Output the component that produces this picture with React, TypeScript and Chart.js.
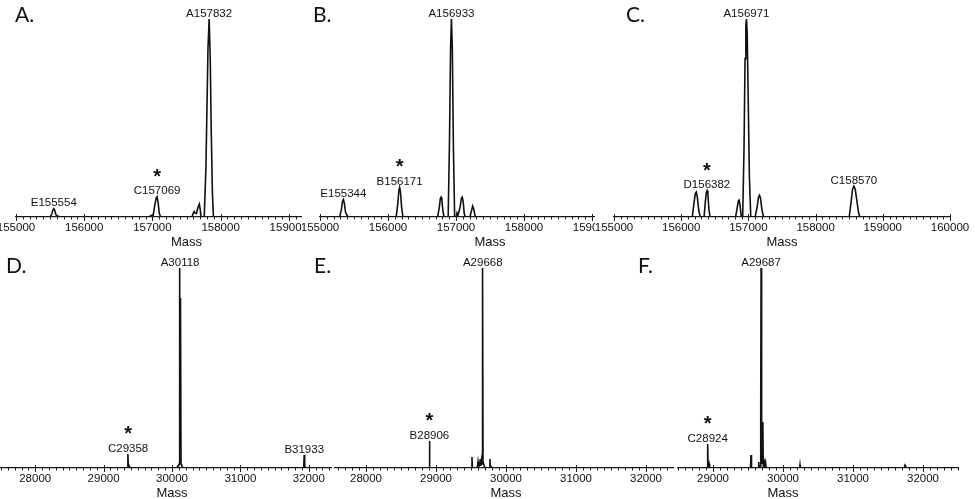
import React, { useEffect, useRef } from "react";
import { Chart, registerables } from "chart.js";
Chart.register(...registerables);

type Pt = [number, number];
type PeakLabel = { text: string; mass: number; level: number; star?: boolean };

// ---------- data (mass, relative intensity) ----------
const spectrumA: Pt[] = [
  [155000, 0], [155500, 0], [155525, 0.015], [155540, 0.035], [155554, 0.042], [155568, 0.034],
  [155585, 0.012], [155600, 0.006], [155620, 0.004], [155650, 0],
  [156950, 0], [156985, 0.008], [157010, 0.006], [157030, 0.05], [157055, 0.095], [157069, 0.102],
  [157085, 0.07], [157100, 0.02], [157120, 0],
  [157580, 0], [157600, 0.02], [157612, 0.028], [157625, 0.02], [157645, 0.018], [157670, 0.05],
  [157688, 0.065], [157700, 0.04], [157715, 0],
  [157760, 0], [157785, 0.25], [157800, 0.55], [157815, 0.85], [157832, 1.0], [157848, 0.8],
  [157862, 0.45], [157880, 0.12], [157895, 0], [160000, 0],
];
const labelsA: PeakLabel[] = [
  { text: "E155554", mass: 155554, level: 0.042 },
  { text: "C157069", mass: 157069, level: 0.102, star: true },
  { text: "A157832", mass: 157832, level: 1.0 },
];

const spectrumB: Pt[] = [
  [155000, 0], [155290, 0], [155315, 0.04], [155332, 0.08], [155344, 0.088], [155358, 0.07],
  [155375, 0.025], [155395, 0.01], [155420, 0],
  [156120, 0], [156145, 0.07], [156160, 0.135], [156171, 0.15], [156183, 0.13], [156200, 0.05], [156220, 0],
  [156730, 0], [156755, 0.05], [156770, 0.095], [156780, 0.1], [156792, 0.085], [156808, 0.03], [156825, 0],
  [156885, 0], [156905, 0.4], [156920, 0.85], [156933, 1.0], [156946, 0.85], [156962, 0.35], [156980, 0],
  [157005, 0], [157015, 0.02], [157030, 0.01], [157060, 0.05], [157080, 0.095], [157092, 0.1],
  [157105, 0.08], [157120, 0.02], [157135, 0],
  [157205, 0], [157230, 0.035], [157245, 0.055], [157260, 0.04], [157285, 0], [160000, 0],
];
const labelsB: PeakLabel[] = [
  { text: "E155344", mass: 155344, level: 0.088 },
  { text: "B156171", mass: 156171, level: 0.15, star: true },
  { text: "A156933", mass: 156933, level: 1.0 },
];

const spectrumC: Pt[] = [
  [155000, 0], [156165, 0], [156190, 0.07], [156210, 0.118], [156225, 0.125], [156240, 0.1],
  [156262, 0.03], [156285, 0],
  [156340, 0], [156360, 0.08], [156375, 0.125], [156385, 0.133], [156397, 0.115], [156412, 0.04], [156430, 0],
  [156810, 0], [156835, 0.05], [156850, 0.08], [156862, 0.085], [156875, 0.06], [156895, 0],
  [156915, 0], [156935, 0.35], [156950, 0.8], [156962, 0.97], [156971, 1.0], [156982, 0.93],
  [156997, 0.6], [157015, 0.2], [157035, 0],
  [157100, 0], [157130, 0.05], [157150, 0.1], [157165, 0.11], [157180, 0.095], [157200, 0.04], [157225, 0],
  [158500, 0], [158530, 0.08], [158550, 0.14], [158570, 0.155], [158590, 0.14], [158615, 0.08],
  [158640, 0.02], [158660, 0], [160000, 0],
];
const labelsC: PeakLabel[] = [
  { text: "D156382", mass: 156382, level: 0.133, star: true },
  { text: "A156971", mass: 156971, level: 1.0 },
  { text: "C158570", mass: 158570, level: 0.155 },
];

const spectrumD: Pt[] = [
  [27500, 0], [29345, 0], [29355, 0.07], [29362, 0], [29372, 0.01], [29380, 0],
  [30070, 0], [30090, 0.012], [30100, 0.018], [30105, 0.02], [30112, 1.0], [30118, 0.03],
  [30124, 0.85], [30132, 0.02], [30140, 0.015], [30150, 0.005], [30160, 0],
  [31925, 0], [31933, 0.065], [31940, 0], [31948, 0.005], [31955, 0], [32500, 0],
];
const labelsD: PeakLabel[] = [
  { text: "C29358", mass: 29358, level: 0.07, star: true },
  { text: "A30118", mass: 30118, level: 1.0 },
  { text: "B31933", mass: 31933, level: 0.065 },
];

const spectrumE: Pt[] = [
  [27500, 0], [28900, 0], [28906, 0.135], [28912, 0],
  [29508, 0], [29514, 0.055], [29520, 0],
  [29590, 0], [29600, 0.03], [29608, 0.005], [29625, 0.02], [29632, 0.045], [29640, 0.01],
  [29650, 0.04], [29658, 0.02], [29662, 0.58], [29665, 0.04], [29668, 1.0], [29672, 0.03],
  [29690, 0.01], [29700, 0],
  [29765, 0], [29771, 0.045], [29777, 0], [29790, 0.005], [29800, 0], [32500, 0],
];
const labelsE: PeakLabel[] = [
  { text: "B28906", mass: 28906, level: 0.135, star: true },
  { text: "A29668", mass: 29668, level: 1.0 },
];

const spectrumF: Pt[] = [
  [27500, 0], [28915, 0], [28924, 0.12], [28930, 0], [28945, 0.02], [28952, 0],
  [29536, 0], [29543, 0.065], [29550, 0],
  [29647, 0], [29653, 0.03], [29658, 0], [29676, 0.01], [29682, 0.325], [29687, 1.0],
  [29692, 0.29], [29697, 0.02], [29712, 0.23], [29718, 0.01], [29735, 0.03], [29742, 0.005],
  [29752, 0.025], [29760, 0],
  [30238, 0], [30243, 0.015], [30248, 0],
  [31735, 0], [31743, 0.015], [31750, 0.012], [31758, 0], [32500, 0],
];
const labelsF: PeakLabel[] = [
  { text: "C28924", mass: 28924, level: 0.12, star: true },
  { text: "A29687", mass: 29687, level: 1.0 },
];

// ---------- panel layout ----------
type Panel = {
  letter: string; points: Pt[]; labels: PeakLabel[]; min: number; max: number;
  clip: { left: number; top: number; width: number; height: number };
  canvas: { left: number; top: number; width: number; height: number };
  padTop: number; padBottom: number; letterPos: { left: number; top: number };
};

const SIDE_PAD = 30;

const panels: Panel[] = [
  { letter: "A.", points: spectrumA, labels: labelsA, min: 155000, max: 160000,
    clip: { left: 0, top: 0, width: 302, height: 250 }, canvas: { left: -14, top: 0, width: 401, height: 255 },
    padTop: 19, padBottom: 10, letterPos: { left: 15, top: 3 } },
  { letter: "B.", points: spectrumB, labels: labelsB, min: 155000, max: 160000,
    clip: { left: 302, top: 0, width: 293, height: 250 }, canvas: { left: 290, top: 0, width: 400, height: 255 },
    padTop: 19, padBottom: 10, letterPos: { left: 313, top: 3 } },
  { letter: "C.", points: spectrumC, labels: labelsC, min: 155000, max: 160000,
    clip: { left: 595, top: 0, width: 380, height: 250 }, canvas: { left: 584, top: 0, width: 396, height: 255 },
    padTop: 19, padBottom: 10, letterPos: { left: 626, top: 3 } },
  { letter: "D.", points: spectrumD, labels: labelsD, min: 27500, max: 32500,
    clip: { left: 0, top: 250, width: 332, height: 249 }, canvas: { left: -29, top: 251, width: 402, height: 255 },
    padTop: 17, padBottom: 10, letterPos: { left: 6, top: 254 } },
  { letter: "E.", points: spectrumE, labels: labelsE, min: 27500, max: 32500,
    clip: { left: 334, top: 250, width: 340, height: 249 }, canvas: { left: 301, top: 251, width: 410, height: 255 },
    padTop: 17, padBottom: 10, letterPos: { left: 314, top: 254 } },
  { letter: "F.", points: spectrumF, labels: labelsF, min: 27500, max: 32500,
    clip: { left: 677, top: 250, width: 298, height: 249 }, canvas: { left: 578, top: 251, width: 410, height: 255 },
    padTop: 17, padBottom: 10, letterPos: { left: 638, top: 254 } },
];

const FONT = '"Liberation Sans", Arial, sans-serif';

const decorPlugin = {
  id: "spectrumDecor",
  afterDraw(chart: any, _args: any, opts: any) {
    const { ctx } = chart;
    const xs = chart.scales.x;
    const ys = chart.scales.y;
    const axisY = xs.top;
    ctx.save();
    ctx.strokeStyle = "#222";
    ctx.lineWidth = 1;
    for (const t of xs.ticks) {
      const px = Math.round(xs.getPixelForValue(t.value)) + 0.5;
      const major = t.value % 1000 === 0;
      ctx.beginPath();
      ctx.moveTo(px, axisY - (major ? 3 : 0));
      ctx.lineTo(px, axisY + (major ? 4 : 2.5));
      ctx.stroke();
    }
    ctx.fillStyle = "#111";
    ctx.textAlign = "center";
    ctx.textBaseline = "alphabetic";
    for (const l of (opts.labels || []) as PeakLabel[]) {
      const px = xs.getPixelForValue(l.mass);
      const py = ys.getPixelForValue(l.level);
      ctx.font = `11.5px ${FONT}`;
      ctx.fillText(l.text, px, py - 2.5);
      if (l.star) {
        ctx.font = `bold 20px ${FONT}`;
        ctx.fillText("*", px, py - 14);
      }
    }
    ctx.restore();
  },
};

function SpectrumPanel({ p }: { p: Panel }) {
  const ref = useRef<HTMLCanvasElement | null>(null);
  useEffect(() => {
    if (!ref.current) return;
    const chart = new Chart(ref.current, {
      type: "line",
      data: {
        datasets: [
          {
            data: p.points.map(([x, y]) => ({ x, y })),
            borderColor: "#111",
            borderWidth: 1.6,
            pointRadius: 0,
            tension: 0,
            fill: false,
          },
        ],
      },
      options: {
        animation: false,
        responsive: false,
        maintainAspectRatio: false,
        events: [],
        layout: { padding: { left: SIDE_PAD, right: SIDE_PAD, top: p.padTop, bottom: p.padBottom } },
        plugins: {
          legend: { display: false },
          tooltip: { enabled: false },
          spectrumDecor: { labels: p.labels },
        } as any,
        scales: {
          x: {
            type: "linear",
            min: p.min,
            max: p.max,
            grid: { display: false, drawTicks: false },
            border: { display: true, color: "#222", width: 1.2 },
            ticks: {
              stepSize: 100,
              autoSkip: false,
              maxRotation: 0,
              minRotation: 0,
              includeBounds: false,
              padding: 8,
              color: "#111",
              font: { family: FONT, size: 11.5, lineHeight: "6px" },
              callback: (v: any) => (Number(v) % 1000 === 0 ? String(v) : ""),
            },
            title: {
              display: true,
              text: "Mass",
              color: "#111",
              padding: { top: 0, bottom: 0 },
              font: { family: FONT, size: 13, lineHeight: "6px" },
            },
          },
          y: { display: false, min: 0, max: 1 },
        },
      },
      plugins: [decorPlugin],
    });
    return () => chart.destroy();
  }, [p]);
  return (
    <div
      style={{
        position: "absolute",
        left: p.clip.left,
        top: p.clip.top,
        width: p.clip.width,
        height: p.clip.height,
        overflow: "hidden",
      }}
    >
      <canvas
        ref={ref}
        width={p.canvas.width}
        height={p.canvas.height}
        style={{
          position: "absolute",
          left: p.canvas.left - p.clip.left,
          top: p.canvas.top - p.clip.top,
          width: p.canvas.width,
          height: p.canvas.height,
        }}
      />
    </div>
  );
}

export default function App() {
  return (
    <div
      style={{
        position: "absolute",
        left: 0,
        top: 0,
        width: 975,
        height: 499,
        background: "#fff",
        overflow: "hidden",
      }}
    >
      {panels.map((p) => (
        <SpectrumPanel key={p.letter} p={p} />
      ))}
      {panels.map((p) => (
        <div
          key={"l" + p.letter}
          style={{
            position: "absolute",
            left: p.letterPos.left,
            top: p.letterPos.top,
            fontFamily: "Lato, 'Open Sans', sans-serif",
            fontSize: 21,
            lineHeight: 1,
            color: "#111",
          }}
        >
          {p.letter}
        </div>
      ))}
    </div>
  );
}
